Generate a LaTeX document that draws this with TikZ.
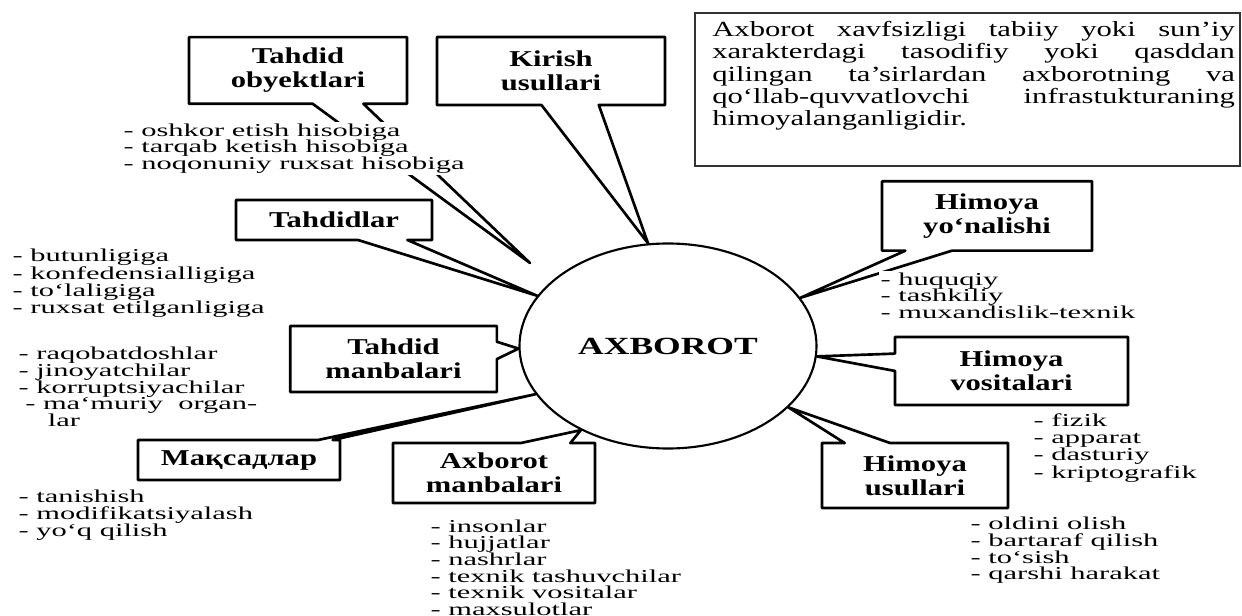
\documentclass[tikz,border=0pt]{standalone}
\usepackage{fontspec}
\setmainfont{Liberation Serif}
\newfontfamily\listfont{Liberation Serif}[FakeStretch=1.68]
\newfontfamily\boxfont{Liberation Serif}[FakeStretch=1.35]
\newfontfamily\centrefont{Liberation Serif}[FakeStretch=1.44]
\newfontfamily\notefont{Liberation Serif}[FakeStretch=1.42]
\usetikzlibrary{shapes.geometric,shapes.callouts}
\tolerance=10000 \hbadness=10000
\hyphenpenalty=10000 \exhyphenpenalty=10000

\begin{document}
\begin{tikzpicture}[x=0.75pt,y=-0.75pt,
  callbox/.style={rectangle callout,draw,line width=2pt,line join=round,align=center,inner sep=2pt,
    font=\boxfont\fontsize{17}{18}\selectfont\bfseries},
  items/.style={anchor=west,align=left,fill=white,inner sep=1pt,
    font=\listfont\fontsize{13.6}{12.5}\selectfont}]
  \useasboundingbox (0,0) rectangle (1242,616);

  \node[ellipse,draw,line width=1.6pt,minimum width=222.75pt,minimum height=153.75pt,inner sep=0pt,
    font=\centrefont\fontsize{18.5}{20}\selectfont\bfseries] (ax) at (668,346) {AXBOROT};

  \coordinate (objtip) at (530,263);

  \node[callbox,minimum width=163.5pt,minimum height=50pt,callout absolute pointer={(objtip)},callout pointer width=38pt] (obj) at (298,70.5) {Tahdid\\obyektlari};
  \node[callbox,minimum width=171pt,minimum height=51pt,callout absolute pointer={(ax.101)},callout pointer width=43pt] (kirish) at (551,71) {Kirish\\usullari};
  \node[callbox,minimum width=147pt,minimum height=30pt,callout absolute pointer={(ax.159)},callout pointer width=37pt] (tahdid) at (334,220) {Tahdidlar};
  \node[callbox,minimum width=155pt,minimum height=49.5pt,callout absolute pointer={(ax.181)},callout pointer width=13pt] (manba) at (393.5,359) {Tahdid\\manbalari};
  \node[callbox,minimum width=151.5pt,minimum height=30pt,callout absolute pointer={(ax.200)},callout pointer width=11pt] (maqsad) at (239,460) {Мақсадлар};
  \node[callbox,minimum width=151.5pt,minimum height=45pt,callout absolute pointer={(ax.224)},callout pointer width=37pt] (axmanba) at (494,473) {Axborot\\manbalari};
  \node[callbox,minimum width=139.5pt,minimum height=48.75pt,callout absolute pointer={(ax.333)},callout pointer width=34pt] (usul) at (915,475.5) {Himoya\\usullari};
  \node[callbox,minimum width=174.75pt,minimum height=51pt,callout absolute pointer={(ax.356)},callout pointer width=13pt] (vosita) at (1011.5,371) {Himoya\\vositalari};
  \node[callbox,minimum width=157.5pt,minimum height=52pt,callout absolute pointer={(ax.20)},callout pointer width=35pt] (yonal) at (987,216) {Himoya\\yo‘nalishi};

  % lists under the boxes
  \node[items] (objlist) at (122,148.5) {- oshkor etish hisobiga\\- tarqab ketish hisobiga\\- noqonuniy ruxsat hisobiga};
  \node[items] (tahdidlist) at (11,283) {- butunligiga\\- konfedensialligiga\\- to‘laligiga\\- ruxsat etilganligiga};
  \node[items] (manbalist) at (17,387) {- raqobatdoshlar\\- jinoyatchilar\\- korruptsiyachilar\\\hspace{5pt}- ma‘muriy\ \ organ-\\\hspace{22pt}lar};
  \node[items] (maqsadlist) at (17,515) {- tanishish\\- modifikatsiyalash\\- yo‘q qilish};
  \node[items] (axmanbalist) at (429,567.5) {- insonlar\\- hujjatlar\\- nashrlar\\- texnik tashuvchilar\\- texnik vositalar\\- maxsulotlar};
  \node[items] (yonallist) at (879,295.5) {- huquqiy\\- tashkiliy\\- muxandislik-texnik};
  \node[items] (vositalist) at (1032,448) {- fizik\\- apparat\\- dasturiy\\- kriptografik};
  \node[items] (usullist) at (969,550.5) {- oldini olish\\- bartaraf qilish\\- to‘sish\\- qarshi harakat};

  % definition
  \node[draw=black!80,line width=1.4pt,minimum width=408.75pt,minimum height=114.75pt] (note) at (967.5,89.5) {};
  \node[anchor=north west,inner sep=0pt,text width=392pt,align=justify,
    font=\notefont\fontsize{16.2}{16.7}\selectfont] (notetext) at (712,21)
    {Axborot xavfsizligi tabiiy yoki sun’iy\linebreak xarakterdagi tasodifiy yoki qasddan\linebreak qilingan ta’sirlardan axborotning va\linebreak qo‘llab-quvvatlovchi infrastukturaning\linebreak himoyalanganligidir.};

\end{tikzpicture}
\end{document}
